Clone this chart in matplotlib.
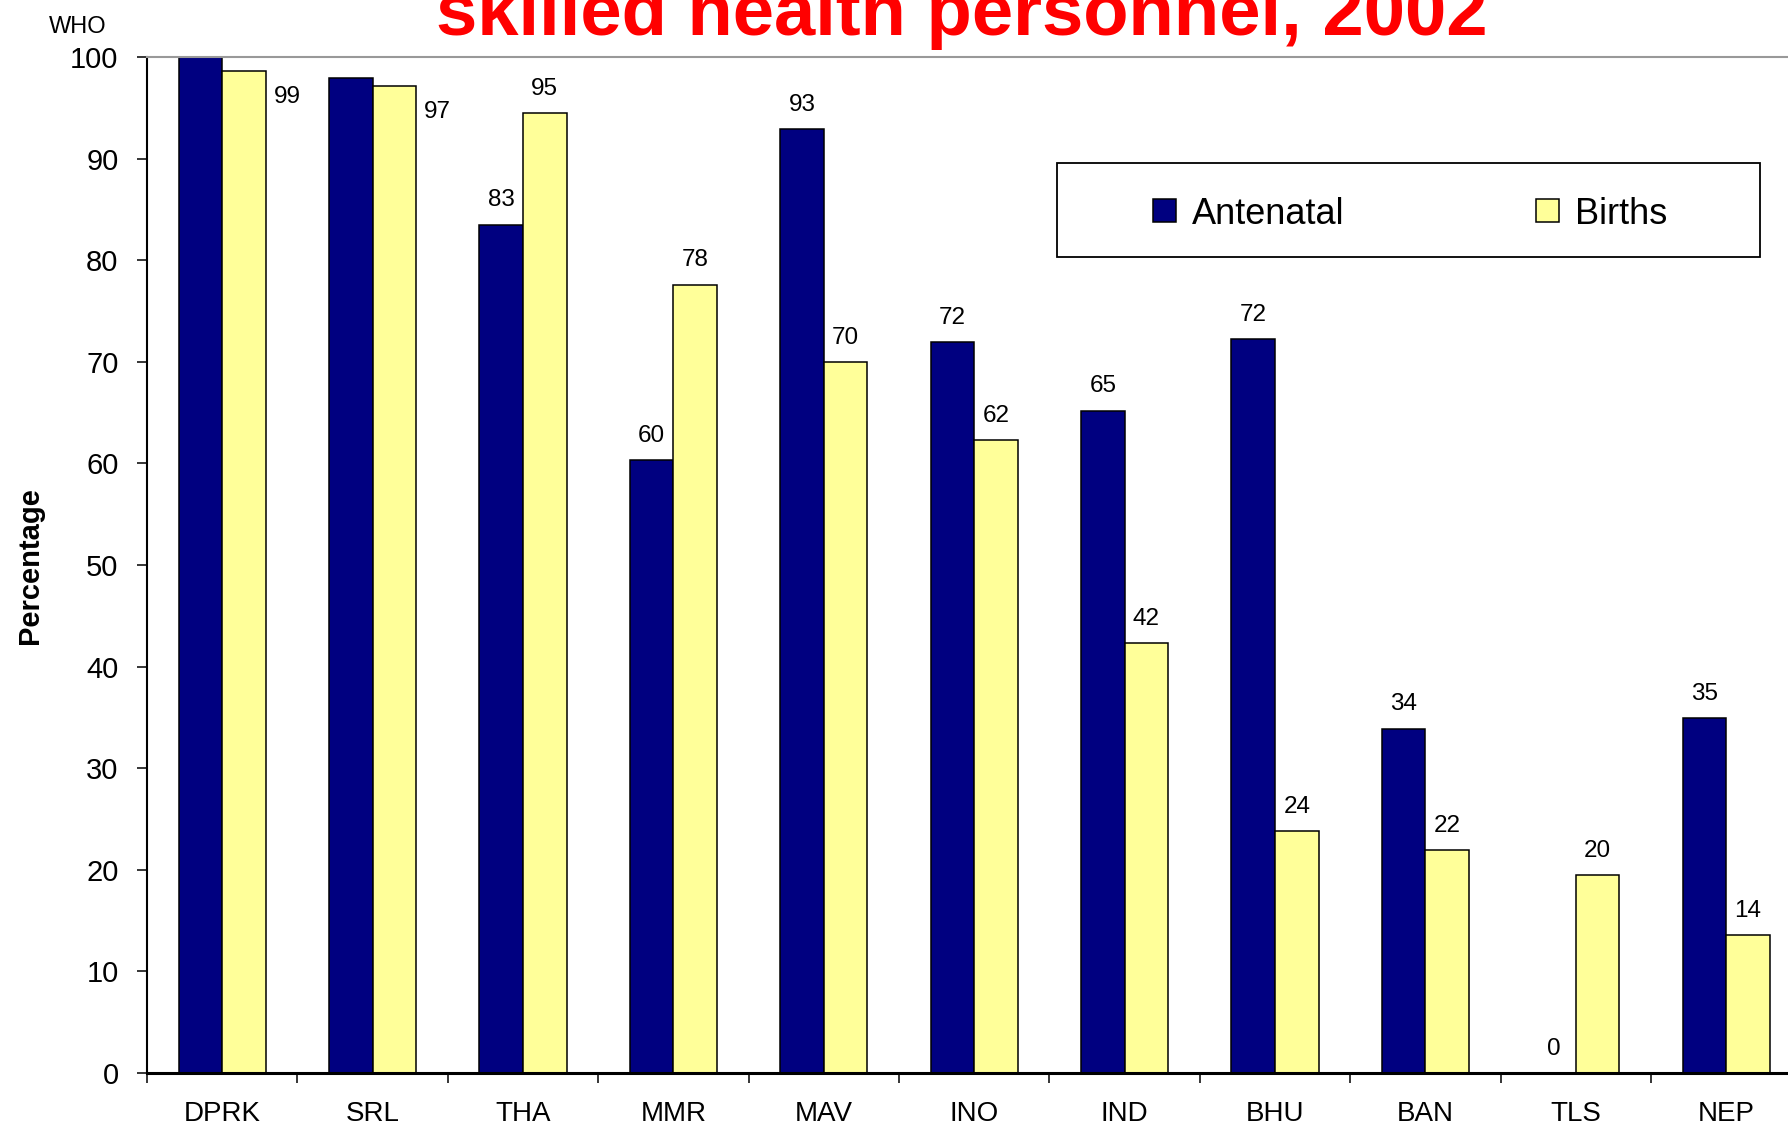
import matplotlib
matplotlib.use("Agg")
import matplotlib.pyplot as plt
import numpy as np
from matplotlib.patches import Rectangle

plt.rcParams['font.family'] = ['Liberation Sans', 'DejaVu Sans']

countries = ["DPRK", "SRL", "THA", "MMR", "MAV", "INO", "IND", "BHU", "BAN", "TLS", "NEP"]
antenatal = [100, 97.9, 83.5, 60.3, 92.9, 71.9, 65.2, 72.2, 33.9, 0, 34.9]
births = [98.6, 97.1, 94.5, 77.6, 70.0, 62.3, 42.3, 23.8, 21.9, 19.5, 13.6]
antenatal_labels = ["", "", "83", "60", "93", "72", "65", "72", "34", "0", "35"]
births_labels = ["99", "97", "95", "78", "70", "62", "42", "24", "22", "20", "14"]
# the first two births labels sit beside the bar, not on top
births_beside = [True, True, False, False, False, False, False, False, False, False, False]

fig = plt.figure(figsize=(17.88, 11.26), dpi=100)
ax = fig.add_axes([0.0822, 0.0471, 0.9253, 0.9023])

x = np.arange(len(countries))
w = 0.29
b1 = ax.bar(x - w/2, antenatal, w, color='#000080', edgecolor='black', linewidth=1.1, label='Antenatal')
b2 = ax.bar(x + w/2, births, w, color='#FFFF99', edgecolor='black', linewidth=1.1, label='Births')

for i in range(len(countries)):
    if antenatal_labels[i]:
        ax.annotate(antenatal_labels[i], (x[i] - w/2, antenatal[i]), xytext=(0, 9.5),
                    textcoords='offset points', ha='center', va='bottom', fontsize=17.5)
    if births_beside[i]:
        ax.annotate(births_labels[i], (x[i] + w, births[i]), xytext=(5.5, -18.5),
                    textcoords='offset points', ha='left', va='center', fontsize=17.5)
    else:
        ax.annotate(births_labels[i], (x[i] + w/2, births[i]), xytext=(0, 9.5),
                    textcoords='offset points', ha='center', va='bottom', fontsize=17.5)

ax.set_xlim(-0.5, len(countries) - 0.5)
ax.set_ylim(0, 100)
ax.set_yticks(range(0, 101, 10))
ax.tick_params(axis='y', direction='out', length=7, width=1.1, labelsize=21, pad=13.5)

ax.set_xticks(np.arange(-0.5, len(countries), 1))
ax.set_xticklabels([])
ax.set_xticks(x, minor=True)
ax.set_xticklabels(countries, minor=True)
ax.tick_params(axis='x', which='major', direction='out', length=7, width=1.1)
ax.tick_params(axis='x', which='minor', length=0, labelsize=20, pad=20.5)

ax.spines['right'].set_visible(False)
ax.spines['top'].set_color('#999999')
ax.spines['top'].set_linewidth(1.5)
ax.spines['left'].set_linewidth(1.5)
ax.spines['bottom'].set_linewidth(2.2)

fig.text(436/1788, 1 - 35/1126, 'skilled health personnel, 2002', color='red',
         fontsize=53.5, fontweight='bold', ha='left', va='baseline')
fig.text(49/1788, 1 - 33/1126, 'WHO', fontsize=17, ha='left', va='baseline')
fig.text(0.0168, 0.498, 'Percentage', rotation=90, fontsize=21, fontweight='bold',
         ha='center', va='center')

fig.add_artist(Rectangle((0.5912, 0.7718), 0.3932, 0.0835, transform=fig.transFigure,
                         fill=False, edgecolor='black', linewidth=1.3))
fig.legend(handles=[b1, b2], loc='center left', bbox_to_anchor=(1153/1788, 1 - 214/1126),
           ncol=2, frameon=False, fontsize=26, borderpad=0, borderaxespad=0,
           handlelength=0.64, handleheight=0.62, handletextpad=0.44, columnspacing=5.3)

fig.savefig('out.png', dpi=100)
